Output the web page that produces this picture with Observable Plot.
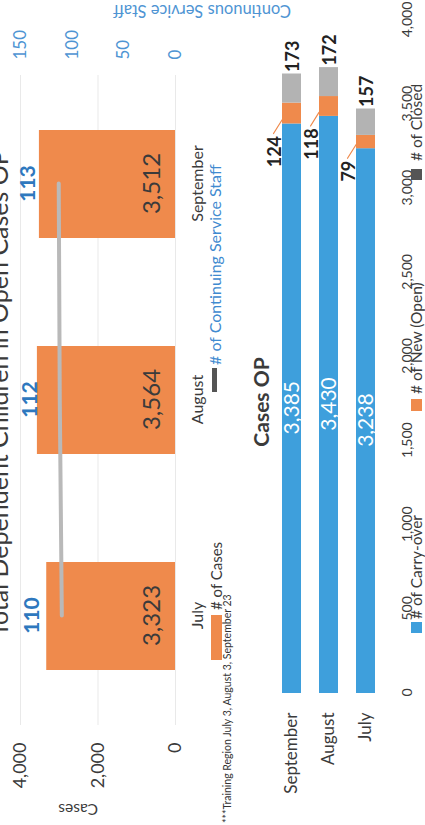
<!DOCTYPE html>
<html>
<head>
<meta charset="utf-8">
<script src="https://cdn.jsdelivr.net/npm/d3@7"></script>
<script src="https://cdn.jsdelivr.net/npm/@observablehq/plot@0.6"></script>
<style>
html, body { margin: 0; padding: 0; background: #fff; overflow: hidden; width: 425px; height: 825px; }
#page { position: absolute; left: 0; top: 0; width: 825px; height: 425px; transform-origin: 0 0;
        transform: translate(0px, 825px) rotate(-90deg); font-family: Lato, "Open Sans", sans-serif; color: #3b3b3b; background: #fff; }
.abs { position: absolute; white-space: nowrap; }
.item { display: flex; align-items: center; }
.sw { display: inline-block; }
</style>
</head>
<body>
<div id="page">
  <div id="topChart" class="abs" style="left:0;top:0"></div>
  <div id="botChart" class="abs" style="left:0;top:240px"></div>

  <div class="abs item" style="left:165px;top:208px;height:16px;font-size:15px;color:#3b3b3b">
    <span class="sw" style="width:45px;height:11px;background:#EF8A4C"></span><span style="margin-left:5px" id="legCases"></span>
  </div>
  <div class="abs item" style="left:433px;top:206px;height:16px;font-size:16px;color:#3F8AD0">
    <span class="sw" style="width:24px;height:5px;background:#555"></span><span style="margin-left:3px" id="legStaff"></span>
  </div>
  <div class="abs" id="footnote" style="left:2px;top:221px;font-size:10.5px;line-height:12px;color:#333"></div>

  <div class="abs item" style="left:192px;top:409px;height:14px;font-size:15.5px;line-height:14px;color:#3b3b3b">
    <span class="sw" style="width:11px;height:11px;background:#3E9FDC"></span><span style="margin-left:3px" class="legOp"></span>
  </div>
  <div class="abs item" style="left:414px;top:409px;height:14px;font-size:15.5px;line-height:14px;color:#3b3b3b">
    <span class="sw" style="width:12px;height:11px;background:#EF8A4C"></span><span style="margin-left:5px" class="legOp"></span>
  </div>
  <div class="abs item" style="left:645px;top:409px;height:14px;font-size:15.5px;line-height:14px;color:#3b3b3b">
    <span class="sw" style="width:11px;height:11px;background:#555"></span><span style="margin-left:8px" class="legOp"></span>
  </div>
</div>
<script>
// ---------- data ----------
const months = ["July", "August", "September"];
const cases = [3323, 3564, 3512];
const staff = [110, 112, 113];
const caseTicks = [0, 2000, 4000];
const staffTicks = [0, 50, 100, 150];
const staffMax = 150;
const caseMax = 4000;

const opOrder = ["September", "August", "July"];
const carryOver = [3238, 3430, 3385];   // July, August, September
const newOpen = [79, 118, 124];
const closedCases = [157, 172, 173];
const opTicks = [0, 500, 1000, 1500, 2000, 2500, 3000, 3500, 4000];
const opSeries = ["# of Carry-over", "# of New (Open)", "# of Closed"];

const titleTop = "Total Dependent Children in Open Cases OP";
const titleBot = "Cases OP";
const yTitleLeft = "Cases";
const yTitleRight = "Continuous Service Staff";
const legendCases = "# of Cases";
const legendStaff = "# of Continuing Service Staff";
const footnote = "***Training Region July 3, August 3, September 23";

// ---------- colors ----------
const ORANGE = "#EF8A4C", BLUE = "#3E9FDC", GRAY = "#B3B3B3", LINE = "#B9B9B9";
const DARK = "#3b3b3b", STAFFBLUE = "#2E78BE", AXISBLUE = "#4E94D3";
const FONT = "Lato, 'Open Sans', sans-serif";

const topData = months.map((m, i) => ({month: m, cases: cases[i], staff: staff[i]}));
const toCases = v => v * caseMax / staffMax;

const topPlot = Plot.plot({
  width: 825, height: 235,
  marginLeft: 100, marginRight: 75, marginTop: 20, marginBottom: 60,
  style: {fontFamily: FONT, background: "transparent", overflow: "visible"},
  x: {domain: months, paddingInner: 0.5, paddingOuter: 0.25},
  y: {domain: [0, caseMax]},
  marks: [
    Plot.gridY(caseTicks, {stroke: "#e9e9e9", strokeOpacity: 1}),
    Plot.barY(topData, {x: "month", y: "cases", fill: ORANGE}),
    Plot.lineY(topData, {x: "month", y: d => toCases(d.staff), stroke: LINE, strokeWidth: 4}),
    Plot.text(topData, {x: "month", frameAnchor: "bottom", dy: -23, lineAnchor: "middle",
      text: d => d3.format(",")(d.cases), fill: DARK, fontSize: 24}),
    Plot.text(topData, {x: "month", y: d => toCases(d.staff), dy: -30, lineAnchor: "middle",
      text: "staff", fill: STAFFBLUE, fontSize: 21, fontWeight: "bold"}),
    Plot.axisY(caseTicks, {anchor: "left", tickSize: 0, tickPadding: 18, tickFormat: d3.format(","),
      fontSize: 18, fill: DARK, label: null}),
    Plot.axisY(staffTicks.map(toCases), {anchor: "right", tickSize: 0, tickPadding: 15,
      tickFormat: d => String(Math.round(d * staffMax / caseMax)), fontSize: 17, fill: AXISBLUE, label: null}),
    Plot.axisX({anchor: "bottom", tickSize: 0, tickPadding: 16, fontSize: 16, fill: DARK, label: null}),
    Plot.text([yTitleLeft], {frameAnchor: "left", dx: -84, rotate: -90, fontSize: 15.5, fill: DARK}),
    Plot.text([yTitleRight], {frameAnchor: "right", dx: 64, dy: 15, rotate: -90, fontSize: 16.5, fill: AXISBLUE}),
    Plot.text([titleTop], {frameAnchor: "top", dx: 6, dy: -13, lineAnchor: "bottom", fontSize: 25, fill: DARK})
  ]
});
document.getElementById("topChart").appendChild(topPlot);

// ---------- bottom chart ----------
const opRows = months.map((m, i) => ({month: m, carry: carryOver[i], newOpen: newOpen[i], closed: closedCases[i]}));
const opLong = opRows.flatMap(d => [
  {month: d.month, series: opSeries[0], value: d.carry},
  {month: d.month, series: opSeries[1], value: d.newOpen},
  {month: d.month, series: opSeries[2], value: d.closed}
]);
const leader = {draw(ctx, l) { ctx.moveTo(0, 0); ctx.lineTo(0, -l); }};

const botPlot = Plot.plot({
  width: 825, height: 185,
  marginLeft: 132, marginRight: 20, marginTop: 30, marginBottom: 38,
  style: {fontFamily: FONT, background: "transparent", overflow: "visible"},
  x: {domain: [0, 4000]},
  y: {domain: opOrder, paddingInner: 0.48, paddingOuter: 0.3},
  color: {domain: opSeries, range: [BLUE, ORANGE, GRAY]},
  marks: [
    Plot.barX(opLong, {x: "value", y: "month", fill: "series"}),
    Plot.text(opRows, {x: d => d.carry / 2, y: "month", text: d => d3.format(",")(d.carry),
      fill: "white", fontSize: 21}),
    Plot.vector(opRows, {x: "carry", y: "month", dx: 3, dy: -10, length: 16, rotate: -58, anchor: "start",
      shape: leader, stroke: ORANGE, strokeWidth: 1.2}),
    Plot.text(opRows, {x: "carry", y: "month", text: "newOpen", textAnchor: "end", dx: -13, dy: -17,
      fill: "#222", fontSize: 18, fontWeight: "bold"}),
    Plot.text(opRows, {x: d => d.carry + d.newOpen + d.closed, y: "month", text: "closed", textAnchor: "start",
      dx: 1, dy: 1, fill: "#222", fontSize: 18, fontWeight: "bold"}),
    Plot.axisY({anchor: "left", tickSize: 0, tickPadding: 20, fontSize: 17, fill: DARK, label: null}),
    Plot.axisX(opTicks, {anchor: "bottom", tickSize: 0, tickPadding: 15, tickFormat: d3.format(","),
      fontSize: 14, fill: DARK, label: null}),
    Plot.text([titleBot], {frameAnchor: "top", dx: -46, dy: -8, lineAnchor: "middle", fontSize: 21,
      fontWeight: "bold", fill: DARK})
  ]
});
document.getElementById("botChart").appendChild(botPlot);

document.getElementById("legCases").textContent = legendCases;
document.getElementById("legStaff").textContent = legendStaff;
document.getElementById("footnote").textContent = footnote;
document.querySelectorAll(".legOp").forEach((el, i) => el.textContent = opSeries[i]);
</script>
</body>
</html>
